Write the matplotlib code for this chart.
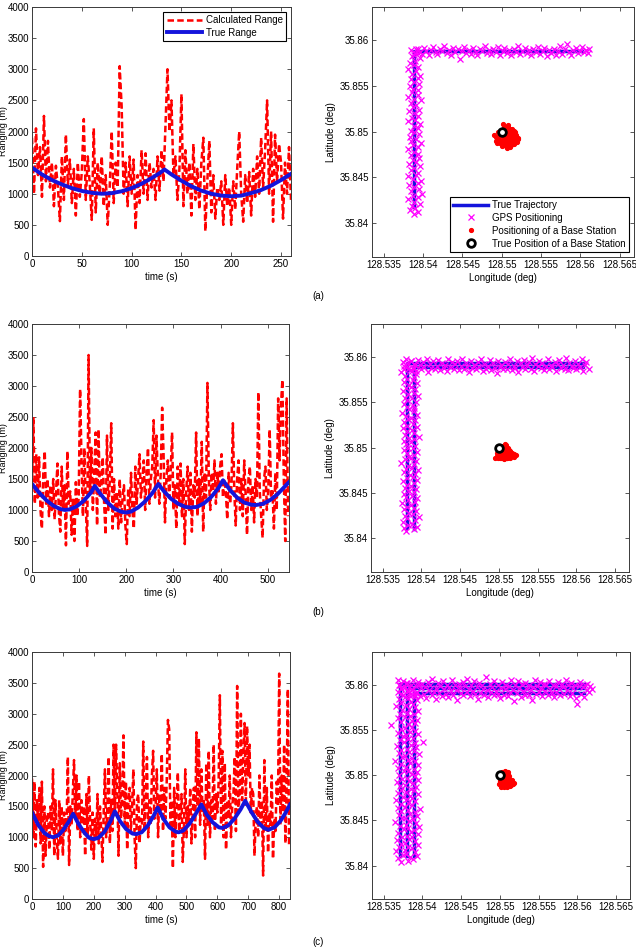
import numpy as np
import matplotlib
matplotlib.use('Agg')
import matplotlib.pyplot as plt
from matplotlib.ticker import FuncFormatter

plt.rcParams['font.family'] = ['Liberation Sans', 'DejaVu Sans']
plt.rcParams['font.size'] = 7

# ---------------- Ranging data ----------------
step_a, step_b, step_c = 2, 3, 4   # sampling interval (s) of the calculated-range series

calc_a = [1900, 1000, 2050, 1300, 1750, 950, 2250, 1200, 1850, 1100,
          1500, 800, 1450, 1100, 560, 1600, 900, 1950, 1150, 1550,
          850, 1400, 650, 1500, 950, 1350, 2200, 900, 1600, 1150,
          580, 2050, 700, 1500, 1000, 1600, 800, 1300, 500, 1100,
          2000, 850, 1500, 1100, 3050, 2400, 1000, 1500, 800, 1600,
          1000, 1550, 420, 1300, 850, 1700, 1000, 1650, 900, 1500,
          1100, 1400, 900, 1600, 1050, 1700, 1200, 2100, 3000, 2000,
          2500, 1300, 1600, 900, 1400, 2600, 800, 1700, 1000, 1500,
          650, 1800, 900, 1400, 750, 1500, 1900, 400, 1200, 1850,
          700, 1300, 600, 1100, 900, 1200, 500, 1300, 800, 1100,
          500, 1200, 750, 1400, 2000, 1000, 550, 1300, 850, 1350,
          650, 1400, 950, 1600, 1000, 1900, 1100, 1700, 2500, 1000,
          2000, 550, 1950, 1200, 1800, 1500, 600, 1500, 1000, 1750,
          900]

calc_b = [1400, 2500, 1100, 1900, 1200, 1850, 1000, 700, 1600, 1950,
          1100, 1500, 900, 1400, 1000, 1500, 850, 1300, 1750, 950,
          650, 1700, 1000, 1400, 430, 1950, 1100, 1300, 600, 1200,
          500, 1450, 900, 1200, 2950, 1800, 900, 2000, 1100, 420,
          3500, 1300, 2000, 1000, 1600, 2250, 750, 2300, 1200, 1400,
          1850, 1100, 600, 2200, 1000, 1500, 2400, 700, 1500, 900,
          1300, 700, 1500, 800, 1200, 1400, 750, 450, 1350, 900,
          1600, 1000, 700, 1700, 1100, 1500, 1900, 1200, 1450, 1800,
          1000, 1600, 2000, 1100, 1500, 1700, 2450, 1200, 2200, 1500,
          1100, 1600, 2650, 1900, 800, 1500, 1800, 1200, 1600, 2250,
          1000, 1400, 700, 1700, 1100, 1750, 900, 1500, 450, 1300,
          1700, 1000, 1600, 650, 1400, 1200, 2250, 900, 1500, 1100,
          2100, 650, 1600, 1200, 3050, 1500, 1000, 1600, 1300, 1800,
          1100, 1600, 1300, 1700, 1900, 1200, 1500, 1300, 850, 1600,
          1100, 1400, 2400, 1300, 750, 1500, 1800, 1000, 1500, 900,
          1800, 1250, 600, 1500, 1700, 1000, 1400, 800, 1500, 1200,
          2900, 1300, 900, 550, 1500, 1700, 1000, 1300, 2300, 1200,
          1300, 700, 1600, 1000, 2800, 1800, 2700, 3100, 1500, 500,
          2800, 900]

calc_c = [1950, 1000, 1900, 850, 1600, 1200, 1800, 900, 1900, 520,
          1500, 700, 1300, 1400, 800, 1500, 1100, 2100, 700, 1600,
          1000, 650, 1600, 900, 1500, 700, 1400, 1100, 1200, 2300,
          550, 1500, 1200, 1700, 2250, 1300, 2000, 1100, 1900, 1000,
          1600, 1200, 1500, 700, 1700, 1000, 2000, 1300, 800, 1400,
          650, 1300, 1000, 1700, 900, 1500, 1100, 600, 1400, 2100,
          1000, 1500, 2300, 900, 1600, 1100, 2500, 1400, 2500, 1800,
          700, 2200, 1300, 1600, 2650, 1200, 1900, 800, 1600, 1800,
          1100, 1500, 2100, 1000, 500, 1600, 1700, 900, 1300, 1200,
          2550, 1100, 1600, 2300, 1000, 1600, 1200, 2000, 2400, 1300,
          1500, 2100, 1000, 1700, 1400, 2350, 1100, 1800, 1300, 1900,
          2900, 2750, 1200, 1600, 500, 1800, 1000, 1500, 2050, 1100,
          1300, 1700, 600, 1200, 2100, 1000, 1500, 1200, 1800, 900,
          1400, 1800, 1000, 2700, 1500, 2600, 1200, 2100, 1400, 1600,
          650, 2200, 1200, 2400, 1000, 1600, 1300, 2500, 1100, 1700,
          1400, 1900, 3300, 1200, 2400, 1000, 2200, 800, 1600, 1300,
          2000, 1000, 1500, 1700, 2300, 1100, 3450, 1400, 1700, 3000,
          1600, 2300, 2850, 1500, 2800, 2000, 2500, 1400, 1800, 1700,
          700, 1300, 1500, 1000, 2000, 1200, 1600, 380, 2250, 1100,
          1800, 750, 1400, 1200, 2000, 650, 1300, 1100, 1900, 1500,
          3650, 1200, 2000, 1400, 2500, 900, 1800, 3400, 850]

true_a_t = [0, 10, 20, 30, 40, 50, 60, 70, 80, 90, 100, 110, 120, 128, 133,
            140, 150, 160, 170, 180, 190, 200, 210, 220, 230, 240, 250, 260]
true_a = [1420, 1310, 1220, 1150, 1090, 1045, 1015, 1000, 1010, 1040, 1090, 1160, 1250, 1330, 1390,
          1310, 1210, 1120, 1050, 1000, 970, 960, 970, 1010, 1060, 1130, 1220, 1320]

true_b_t = [0, 15, 30, 45, 60, 70, 80, 95, 110, 125, 133, 145, 160, 175, 190, 200, 210, 225, 240, 255,
            268, 280, 295, 310, 325, 337, 350, 365, 380, 395, 405, 420, 435, 450, 465, 475, 490, 505,
            520, 535, 545]
true_b = [1420, 1280, 1160, 1070, 1015, 1000, 1010, 1060, 1150, 1280, 1390, 1260, 1120, 1020, 970, 960,
          975, 1040, 1140, 1270, 1420, 1300, 1180, 1100, 1050, 1040, 1050, 1110, 1210, 1350, 1480,
          1320, 1200, 1120, 1085, 1080, 1100, 1160, 1250, 1370, 1450]

true_c_t = [0, 20, 40, 55, 68, 85, 100, 120, 133, 150, 170, 185, 200, 215, 235, 255, 268, 285, 305, 325,
            337, 355, 375, 395, 407, 425, 445, 465, 475, 490, 510, 530, 548, 565, 585, 605, 617, 635,
            655, 675, 690, 710, 730, 750, 765, 785, 805, 820, 835]
true_c = [1400, 1200, 1070, 1020, 1000, 1030, 1110, 1260, 1380, 1220, 1070, 990, 970, 990, 1090, 1270,
          1420, 1260, 1130, 1060, 1050, 1080, 1190, 1360, 1480, 1300, 1160, 1090, 1080, 1110, 1220,
          1380, 1530, 1370, 1240, 1160, 1150, 1190, 1300, 1450, 1590, 1410, 1250, 1150, 1120, 1160,
          1270, 1390, 1530]

# ---------------- Positioning data ----------------
# coordinates in units of 1e-4 deg relative to (128.53 E, 35.84 N)
LON0, LAT0, UNIT = 128.53, 35.84, 1e-4

traj_a_lon = [89, 89, 302]
traj_a_lat = [18, 188, 188]
traj_b_lon = [90, 90, 309, 309, 81, 81]
traj_b_lat = [10, 189, 189, 193, 193, 11]
traj_c_lon = [89, 89, 308, np.nan, 308, 80, 80, np.nan, 71, 71, 308]
traj_c_lat = [11, 191, 191, np.nan, 196, 196, 11, np.nan, 11, 201, 201]

gps_a_lon = [88, 94, 83, 90, 86, 96, 89, 81, 93, 87,
             99, 84, 95, 89, 82, 93, 97, 87, 81, 91,
             94, 85, 89, 96, 82, 91, 87, 95, 84, 93,
             89, 81, 94, 87, 97, 85, 91, 83, 95, 89,
             84, 93, 88, 96, 81, 90, 86, 94, 89, 82,
             95, 87, 91, 84, 97, 89, 81, 93, 86, 94,
             87, 83, 95, 89, 84, 93, 96, 86, 91, 81,
             94, 88, 83, 90, 96, 86, 89, 94, 84, 91,
             90, 93, 96, 99, 101, 104, 107, 110, 113, 116,
             118, 121, 124, 127, 130, 133, 135, 138, 141, 144,
             147, 150, 152, 155, 158, 161, 164, 167, 169, 172,
             175, 178, 181, 184, 186, 189, 192, 195, 198, 201,
             203, 206, 209, 212, 215, 218, 220, 223, 226, 229,
             232, 235, 237, 240, 243, 246, 249, 252, 254, 257,
             260, 263, 266, 269, 271, 274, 277, 280, 283, 286,
             288, 291, 294, 297, 300, 302, 305, 307, 309, 311]
gps_a_lat = [10, 12, 14, 17, 19, 21, 23, 26, 28, 30,
             32, 35, 37, 39, 42, 44, 46, 48, 51, 53,
             55, 58, 60, 62, 65, 67, 69, 71, 74, 76,
             78, 81, 83, 85, 88, 90, 92, 94, 97, 99,
             101, 104, 106, 108, 111, 113, 115, 117, 120, 122,
             124, 127, 129, 131, 134, 136, 138, 140, 143, 145,
             147, 150, 152, 154, 157, 159, 161, 163, 166, 168,
             170, 173, 175, 177, 180, 182, 184, 186, 189, 190,
             186, 190, 187, 185, 191, 188, 184, 189, 192, 187,
             185, 190, 188, 193, 186, 189, 184, 191, 187, 190,
             179, 188, 192, 186, 189, 185, 191, 187, 184, 190,
             188, 193, 186, 189, 185, 190, 187, 192, 184, 188,
             191, 186, 189, 184, 190, 187, 193, 185, 188, 191,
             186, 189, 184, 190, 187, 192, 185, 188, 191, 183,
             189, 186, 190, 184, 188, 193, 185, 190, 196, 187,
             184, 189, 191, 186, 188, 192, 187, 189, 186, 190]

gps_b_lon = [80, 91, 77, 94, 83, 88, 76, 92, 82, 97,
             79, 89, 84, 93, 78, 90, 81, 86, 75, 92,
             83, 95, 80, 88, 77, 91, 84, 93, 79, 87,
             82, 90, 76, 94, 81, 89, 85, 92, 78, 96,
             80, 88, 83, 91, 74, 93, 79, 87, 84, 90,
             81, 95, 77, 89, 83, 92, 80, 86, 78, 91,
             84, 97, 79, 90, 82, 88, 76, 94, 81, 89,
             78, 92, 83, 87, 80, 95, 75, 90, 84, 91,
             82, 89, 77, 93, 81, 88, 79, 96, 83, 90,
             76, 92, 80, 87, 84, 94, 78, 89, 82, 91,
             79, 93, 74, 88, 83, 90, 77, 92, 81, 87,
             76, 78, 80, 82, 85, 87, 89, 91, 93, 96,
             98, 100, 102, 104, 107, 109, 111, 113, 115, 118,
             120, 122, 124, 126, 129, 131, 133, 135, 137, 140,
             142, 144, 146, 148, 151, 153, 155, 157, 159, 162,
             164, 166, 168, 170, 173, 175, 177, 179, 181, 184,
             186, 188, 190, 192, 195, 197, 199, 201, 203, 206,
             208, 210, 212, 214, 217, 219, 221, 223, 225, 228,
             230, 232, 234, 236, 239, 241, 243, 245, 247, 250,
             252, 254, 256, 258, 261, 263, 265, 267, 269, 272,
             274, 276, 278, 280, 283, 285, 287, 289, 291, 294,
             296, 298, 300, 302, 305, 307, 309, 311, 313, 316]
gps_b_lat = [8, 10, 11, 13, 15, 16, 18, 20, 22, 23,
             25, 27, 28, 30, 32, 34, 35, 37, 39, 40,
             42, 44, 46, 47, 49, 51, 52, 54, 56, 58,
             59, 61, 63, 64, 66, 68, 70, 71, 73, 75,
             76, 78, 80, 82, 83, 85, 87, 88, 90, 92,
             94, 95, 97, 99, 100, 102, 104, 106, 107, 109,
             111, 112, 114, 116, 118, 119, 121, 123, 124, 126,
             128, 130, 131, 133, 135, 136, 138, 140, 142, 143,
             145, 147, 148, 150, 152, 154, 155, 157, 159, 160,
             162, 164, 166, 167, 169, 171, 172, 174, 176, 178,
             179, 181, 183, 184, 186, 188, 190, 191, 193, 195,
             194, 187, 197, 190, 185, 195, 188, 192, 184, 196,
             191, 186, 194, 189, 197, 183, 192, 188, 195, 186,
             190, 196, 185, 193, 188, 191, 184, 197, 189, 194,
             187, 192, 195, 185, 190, 198, 186, 193, 189, 183,
             195, 188, 191, 186, 194, 189, 197, 184, 192, 187,
             190, 196, 185, 193, 188, 182, 195, 189, 191, 186,
             194, 187, 192, 197, 185, 190, 188, 195, 183, 193,
             189, 196, 186, 191, 194, 187, 199, 184, 192, 190,
             195, 188, 193, 185, 190, 197, 186, 191, 189, 194,
             184, 192, 196, 188, 191, 187, 199, 185, 193, 190,
             188, 195, 186, 192, 189, 197, 184, 191, 194, 187]

gps_c_lon = [72, 81, 88, 68, 84, 93, 75, 79, 90, 66,
             77, 86, 70, 82, 95, 73, 78, 91, 67, 83,
             87, 74, 80, 94, 69, 85, 89, 76, 81, 96,
             71, 79, 92, 65, 83, 88, 74, 77, 93, 70,
             84, 90, 73, 81, 97, 68, 78, 86, 72, 82,
             91, 66, 80, 87, 75, 84, 94, 69, 79, 89,
             73, 85, 92, 71, 77, 88, 67, 83, 95, 74,
             80, 90, 70, 86, 93, 76, 82, 89, 68, 79,
             94, 72, 84, 91, 65, 81, 87, 74, 78, 96,
             70, 83, 89, 73, 80, 92, 67, 85, 90, 76,
             101, 71, 81, 88, 75, 79, 94, 69, 84, 91,
             73, 78, 87, 60, 82, 90, 72, 86, 93, 68,
             77, 84, 89, 71, 80, 95, 74, 83, 91, 66,
             79, 88, 72, 85, 93, 70, 81, 90, 75, 86,
             92, 68, 80, 87, 73, 83, 96, 71, 79, 69,
             70, 72, 73, 75, 77, 78, 80, 82, 83, 85,
             87, 88, 90, 92, 93, 95, 97, 98, 100, 102,
             103, 105, 107, 108, 110, 112, 113, 115, 117, 118,
             120, 122, 123, 125, 127, 128, 130, 132, 133, 135,
             137, 138, 140, 142, 143, 145, 147, 148, 150, 152,
             153, 155, 157, 158, 160, 162, 163, 165, 167, 168,
             170, 172, 173, 175, 177, 178, 180, 182, 183, 185,
             187, 188, 190, 192, 193, 195, 197, 198, 200, 202,
             203, 205, 207, 208, 210, 212, 213, 215, 217, 218,
             220, 222, 223, 225, 227, 228, 230, 232, 233, 235,
             237, 238, 240, 242, 243, 245, 247, 248, 250, 252,
             253, 255, 257, 258, 260, 262, 263, 265, 267, 268,
             270, 272, 273, 275, 277, 278, 280, 282, 283, 285,
             287, 288, 290, 292, 293, 295, 297, 298, 300, 302,
             303, 305, 307, 308, 310, 312, 313, 315, 317, 319]
gps_c_lat = [4, 5, 7, 8, 9, 11, 12, 13, 15, 16,
             17, 19, 20, 21, 23, 24, 25, 27, 28, 29,
             31, 32, 33, 35, 36, 37, 39, 40, 41, 43,
             44, 45, 47, 48, 49, 51, 52, 53, 55, 56,
             57, 59, 60, 61, 63, 64, 65, 67, 68, 69,
             71, 72, 73, 75, 76, 77, 79, 80, 81, 83,
             84, 85, 87, 88, 89, 91, 92, 93, 95, 96,
             97, 99, 100, 101, 103, 104, 105, 107, 108, 109,
             111, 112, 113, 115, 116, 117, 119, 120, 121, 123,
             124, 125, 127, 128, 129, 131, 132, 133, 135, 136,
             137, 139, 140, 141, 143, 144, 145, 147, 148, 149,
             151, 152, 153, 155, 156, 157, 159, 160, 161, 163,
             164, 165, 167, 168, 169, 171, 172, 173, 175, 176,
             177, 179, 180, 181, 183, 184, 185, 187, 188, 189,
             191, 192, 193, 195, 196, 197, 199, 200, 202, 205,
             200, 195, 190, 204, 197, 186, 202, 193, 189, 199,
             194, 205, 188, 198, 192, 203, 187, 196, 201, 190,
             197, 185, 203, 194, 199, 189, 206, 192, 196, 184,
             202, 191, 198, 187, 204, 195, 190, 200, 186, 197,
             193, 205, 189, 199, 194, 183, 201, 196, 191, 203,
             188, 198, 192, 206, 195, 187, 200, 193, 204, 190,
             197, 184, 202, 191, 199, 195, 189, 208, 194, 186,
             201, 192, 197, 188, 204, 193, 190, 199, 185, 196,
             203, 189, 195, 200, 187, 198, 192, 205, 194, 182,
             199, 191, 204, 196, 186, 201, 193, 189, 202, 195,
             188, 200, 194, 183, 197, 205, 190, 198, 192, 203,
             196, 187, 201, 193, 199, 189, 204, 195, 191, 200,
             186, 198, 192, 203, 195, 188, 201, 197, 190, 205,
             194, 199, 187, 202, 191, 196, 200, 185, 178, 198,
             203, 190, 197, 186, 200, 194, 201, 192, 198, 195]

bs_a_lon = [195, 200, 205, 210, 215, 198, 203, 208, 213, 218,
            193, 197, 202, 207, 212, 217, 220, 196, 201, 206,
            211, 216, 199, 204, 209, 214, 192, 219, 202, 207,
            212, 197, 203, 208, 213, 200, 205, 210, 215, 195,
            190, 221, 206, 201, 211, 204, 209, 199, 214, 207,
            203, 198, 213, 208, 202, 217, 194, 211, 206, 200]
bs_a_lat = [100, 102, 104, 103, 101, 97, 99, 100, 98, 96,
            94, 95, 96, 97, 95, 94, 92, 91, 92, 93,
            92, 91, 88, 89, 88, 89, 90, 89, 85, 86,
            85, 99, 106, 105, 103, 86, 84, 83, 86, 93,
            96, 93, 100, 90, 91, 94, 95, 101, 93, 82,
            97, 87, 89, 107, 108, 99, 88, 97, 90, 84]

bs_b_lon = [195, 199, 203, 207, 211, 215, 219, 222, 197, 201,
            205, 209, 213, 217, 220, 200, 204, 208, 212, 216,
            203, 207, 211, 214, 206, 210, 205, 209, 208, 212,
            198, 202, 206, 210, 214, 218, 204, 213, 201, 217,
            207, 211, 209, 205, 203, 215, 199, 210, 213, 206]
bs_b_lat = [89, 88, 88, 88, 88, 89, 90, 92, 91, 91,
            90, 90, 90, 91, 93, 93, 93, 92, 93, 93,
            96, 95, 95, 95, 98, 98, 101, 101, 104, 99,
            94, 94, 92, 94, 96, 91, 99, 97, 89, 94,
            87, 89, 103, 97, 90, 93, 90, 96, 91, 102]

bs_c_lon = [200, 204, 208, 212, 216, 202, 206, 210, 214, 218,
            199, 203, 207, 211, 215, 201, 205, 209, 213, 217,
            204, 208, 212, 206, 210, 203, 207, 211, 205, 209,
            202, 206, 210, 214, 208, 212, 204, 216, 200, 211]
bs_c_lat = [95, 96, 97, 96, 94, 92, 93, 93, 92, 91,
            90, 89, 89, 89, 89, 87, 87, 87, 88, 90,
            99, 100, 99, 102, 101, 103, 104, 103, 91, 95,
            98, 91, 90, 91, 88, 95, 94, 93, 93, 98]

true_bs_lon, true_bs_lat = [200], [100]

lon_ticks = [128.535, 128.54, 128.545, 128.55, 128.555, 128.56, 128.565]
lat_ticks = [35.84, 35.845, 35.85, 35.855, 35.86]

# ---------------- Figure ----------------
W, H = 636, 950
fig = plt.figure(figsize=(W / 100, H / 100), dpi=100)
FRAME = '#3a3a3a'
RED = '#ff0000'
BLUE = '#1414dc'
MAG = '#ff00ff'


def add_ax(l, t, r, b):
    ax = fig.add_axes([l / W, 1 - b / H, (r - l) / W, (b - t) / H])
    for s in ax.spines.values():
        s.set_color(FRAME)
        s.set_linewidth(0.7)
    ax.tick_params(direction='in', length=3, width=0.6, color=FRAME,
                   top=True, right=True, labelsize=7, pad=2)
    return ax


def range_panel(box, step, calc, tt, tv, xmax, xstep, legend):
    ax = add_ax(*box)
    t = np.arange(len(calc)) * step
    ax.plot(t, calc, color=RED, lw=1.8, ls=(0, (2.6, 1.3)), label='Calculated Range')
    ax.plot(tt, tv, color=BLUE, lw=2.8, label='True Range')
    ax.set_xlim(0, xmax)
    ax.set_ylim(0, 4000)
    ax.set_xticks(list(range(0, xmax + 1, xstep)))
    ax.set_yticks(list(range(0, 4001, 500)))
    ax.set_xlabel('time (s)', labelpad=2)
    ax.set_ylabel('Ranging (m)', fontsize=6.5)
    w_ax = box[2] - box[0]
    ax.yaxis.set_label_coords((8.0 - box[0]) / w_ax, 0.5)
    if legend:
        lg = ax.legend(loc='upper right', fontsize=7, handlelength=3.6,
                       fancybox=False, edgecolor='black', framealpha=1,
                       borderpad=0.35, labelspacing=0.25, handletextpad=0.4)
        lg.get_frame().set_linewidth(0.8)
    return ax


def traj_panel(box, tlon, tlat, glon, glat, blon, blat, legend):
    ax = add_ax(*box)
    cv = lambda v, o: o + np.array(v, dtype=float) * UNIT
    ax.plot(cv(tlon, LON0), cv(tlat, LAT0), color=BLUE, lw=2.5, label='True Trajectory')
    ax.plot(cv(glon, LON0), cv(glat, LAT0), ls='none', marker='x', color=MAG,
            ms=4.3, mew=0.9, label='GPS Positioning')
    ax.plot(cv(blon, LON0), cv(blat, LAT0), ls='none', marker='.', color=RED,
            ms=5.5, label='Positioning of a Base Station')
    ax.plot(cv(true_bs_lon, LON0), cv(true_bs_lat, LAT0), ls='none', marker='o',
            mfc='white', mec='black', ms=5.5, mew=2, label='True Position of a Base Station')
    ax.set_xlim(128.5335, 128.5668)
    ax.set_ylim(35.8363, 35.8636)
    ax.set_xticks(lon_ticks)
    ax.set_yticks(lat_ticks)
    fmt = FuncFormatter(lambda v, p: ('%.3f' % v).rstrip('0').rstrip('.'))
    ax.xaxis.set_major_formatter(fmt)
    ax.yaxis.set_major_formatter(fmt)
    ax.set_xlabel('Longitude (deg)', labelpad=2)
    ax.set_ylabel('Latitude (deg)', labelpad=3)
    if legend:
        lg = ax.legend(loc='lower right', fontsize=7, handlelength=3.6, numpoints=1,
                       fancybox=False, edgecolor='black', framealpha=1,
                       borderpad=0.35, labelspacing=0.3, handletextpad=0.4)
        lg.get_frame().set_linewidth(0.8)
    return ax


range_panel((32, 7, 291, 256), step_a, calc_a, true_a_t, true_a, 260, 50, True)
range_panel((32, 324, 289, 572), step_b, calc_b, true_b_t, true_b, 545, 100, False)
range_panel((32, 652, 290, 899), step_c, calc_c, true_c_t, true_c, 835, 100, False)

traj_panel((372, 7, 634, 257), traj_a_lon, traj_a_lat, gps_a_lon, gps_a_lat, bs_a_lon, bs_a_lat, True)
traj_panel((371, 324, 629, 572), traj_b_lon, traj_b_lat, gps_b_lon, gps_b_lat, bs_b_lon, bs_b_lat, False)
traj_panel((372, 652, 630, 899), traj_c_lon, traj_c_lat, gps_c_lon, gps_c_lat, bs_c_lon, bs_c_lat, False)

for lab, y in (('(a)', 296), ('(b)', 612), ('(c)', 942)):
    fig.text(318 / W, 1 - y / H, lab, ha='center', va='center', fontsize=7)

fig.savefig('out.png', dpi=100)
